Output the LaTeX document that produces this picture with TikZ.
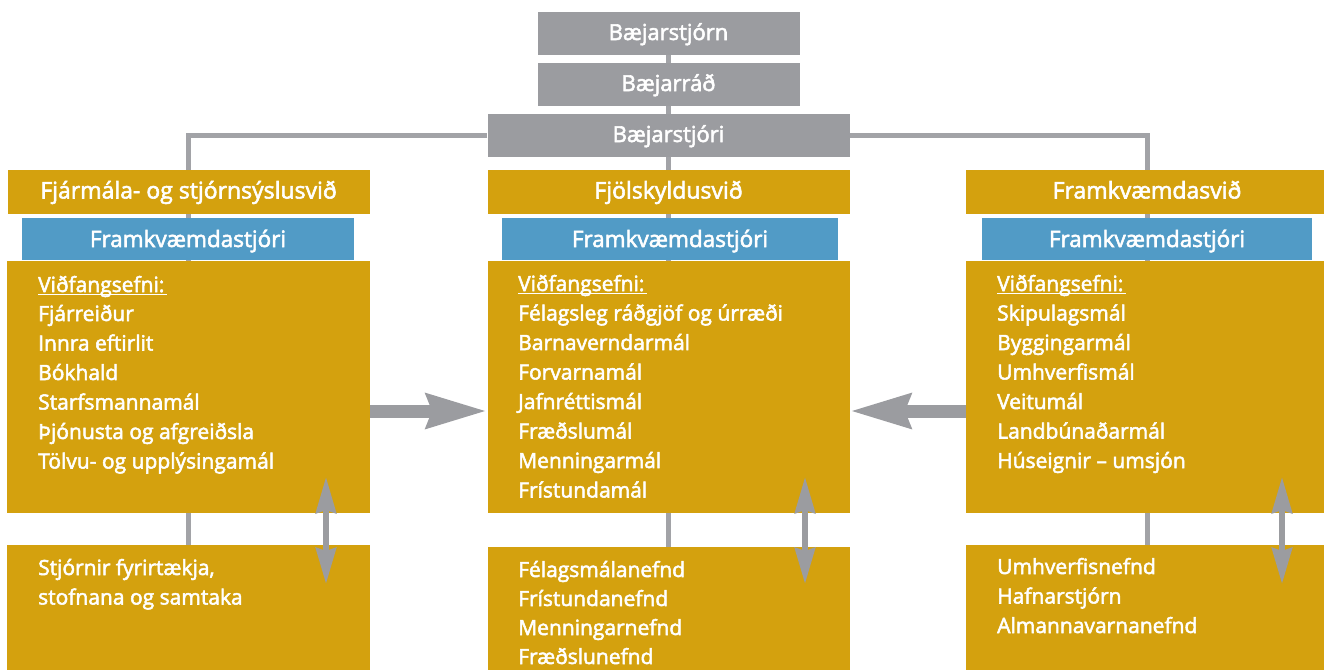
\documentclass[tikz,border=0pt]{standalone}
\usepackage{fontspec}
\setmainfont{Open Sans}[RawFeature={embolden=2.5}]
\usetikzlibrary{arrows.meta,backgrounds}
\definecolor{gullur}{HTML}{D4A10E}
\definecolor{blar}{HTML}{519BC6}
\definecolor{grar}{HTML}{9B9CA0}
\definecolor{linur}{HTML}{A2A3A7}
\begin{document}
\begin{tikzpicture}[x=1pt,y=-1pt,
  kassi/.style={fill=#1,text=white,inner sep=0pt,text height=13pt,text depth=0pt,font=\fontsize{22}{26}\selectfont},
  haus/.style={kassi=gullur,minimum width=362pt,minimum height=44pt,font=\fontsize{23}{26}\selectfont},
  stjori/.style={kassi=blar,minimum height=42pt,text height=16pt,font=\fontsize{22.5}{26}\selectfont},
  texti/.style={anchor=base west,text=white,inner sep=0pt,font=\fontsize{21}{26}\selectfont},
  lina/.style={draw=linur,line width=5pt},
  storor/.style={draw=grar,line width=13pt,-{Stealth[length=60pt,width=33pt,inset=5pt]}},
  tvior/.style={draw=grar,line width=6pt,{Stealth[length=36pt,width=20pt,inset=3pt]}-{Stealth[length=36pt,width=20pt,inset=3pt]}}]
\useasboundingbox (0,0) rectangle (1324,670);
% Stjórn
\node[kassi=grar,minimum width=262pt,minimum height=43pt] (stjorn) at (668.5,33.5) {Bæjarstjórn};
\node[kassi=grar,minimum width=262pt,minimum height=43pt] (rad) at (668.5,84.5) {Bæjarráð};
\node[kassi=grar,minimum width=362pt,minimum height=43pt] (bstjori) at (668.5,135.5) {Bæjarstjóri};
% Svið
\node[haus] (hdrL) at (188.5,192) {Fjármála- og stjórnsýslusvið};
\node[haus] (hdrM) at (668.5,192) {Fjölskyldusvið};
\node[haus] (hdrR) at (1147,192) {Framkvæmdasvið};
% Framkvæmdastjórar
\node[stjori,minimum width=332pt] (blaL) at (188,239) {Framkvæmdastjóri};
\node[stjori,minimum width=336pt] (blaM) at (670,239) {Framkvæmdastjóri};
\node[stjori,minimum width=330pt] (blaR) at (1147,239) {Framkvæmdastjóri};
% Viðfangsefni
\node[kassi=gullur,minimum width=363pt,minimum height=252pt] (bodyL) at (188.5,387) {};
\node[kassi=gullur,minimum width=362pt,minimum height=252pt] (bodyM) at (668.5,387) {};
\node[kassi=gullur,minimum width=362pt,minimum height=252pt] (bodyR) at (1147,387) {};
% Nefndir
\node[kassi=gullur,minimum width=363pt,minimum height=125pt] (subL) at (188.5,607.5) {};
\node[kassi=gullur,minimum width=362pt,minimum height=123pt] (subM) at (668.5,608.5) {};
\node[kassi=gullur,minimum width=362pt,minimum height=125pt] (subR) at (1147,607.5) {};
% Textar
\node[texti] (vfL) at (38,292) {Viðfangsefni:};
\node[texti] (vfM) at (518,291) {Viðfangsefni:};
\node[texti] (vfR) at (997,291) {Viðfangsefni:};
\foreach \v in {vfL,vfM,vfR}
  \draw[white,line width=1.6pt] ([yshift=-2.5pt]\v.base west) -- ([yshift=-2.5pt,xshift=2pt]\v.base east);
\foreach \t [count=\i from 0] in {Fjárreiður,Innra eftirlit,Bókhald,Starfsmannamál,Þjónusta og afgreiðsla,Tölvu- og upplýsingamál}
  \node[texti] (vL\i) at (38,321+29.5*\i) {\t};
\foreach \t [count=\i from 0] in {Félagsleg ráðgjöf og úrræði,Barnaverndarmál,Forvarnamál,Jafnréttismál,Fræðslumál,Menningarmál,Frístundamál}
  \node[texti] (vM\i) at (518,320.5+29.5*\i) {\t};
\foreach \t [count=\i from 0] in {Skipulagsmál,Byggingarmál,Umhverfismál,Veitumál,Landbúnaðarmál,Húseignir – umsjón}
  \node[texti] (vR\i) at (997,320.5+29.5*\i) {\t};
\foreach \t [count=\i from 0] in {{Stjórnir fyrirtækja,},stofnana og samtaka}
  \node[texti] (nL\i) at (38,575+29.5*\i) {\t};
\foreach \t [count=\i from 0] in {Félagsmálanefnd,Frístundanefnd,Menningarnefnd,Fræðslunefnd}
  \node[texti] (nM\i) at (518,577+29*\i) {\t};
\foreach \t [count=\i from 0] in {Umhverfisnefnd,Hafnarstjórn,Almannavarnanefnd}
  \node[texti] (nR\i) at (997,574+29.5*\i) {\t};
% Línur
\begin{scope}[on background layer]
\draw[lina] (stjorn) -- (rad) -- (bstjori) -- (subM);
\draw[lina] (bstjori) -| (subL);
\draw[lina] (bstjori) -| (subR);
\end{scope}
% Örvar
\coordinate (orY) at (0,411);
\draw[storor] (bodyL.east |- orY) -- (bodyM.west |- orY);
\draw[storor] (bodyR.west |- orY) -- (bodyM.east |- orY);
\coordinate (tvL1) at (326,477);
\coordinate (tvL2) at (326,584);
\coordinate (tvM1) at (805,477);
\coordinate (tvM2) at (805,584);
\coordinate (tvR1) at (1282,477);
\coordinate (tvR2) at (1282,584);
\draw[tvior] (tvL1) -- (tvL2);
\draw[tvior] (tvM1) -- (tvM2);
\draw[tvior] (tvR1) -- (tvR2);
\end{tikzpicture}
\end{document}
